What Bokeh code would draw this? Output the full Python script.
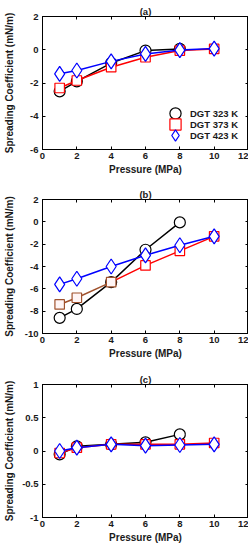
from bokeh.plotting import figure
from bokeh.layouts import column
from bokeh.models import LinearAxis, FixedTicker, Range1d, Legend, LegendItem, CustomJSTickFormatter
from bokeh.embed import file_html
from bokeh.resources import INLINE

# ---- data ----
pressure_323 = [1, 2, 4, 6, 8]
pressure = [1, 2, 4, 6, 8, 10]

a_323 = [-2.5, -1.9, -0.8, -0.05, 0.05]
a_373 = [-2.3, -1.85, -1.05, -0.45, -0.05, 0.05]
a_423 = [-1.45, -1.25, -0.7, -0.25, -0.02, 0.07]

b_323 = [-8.6, -7.8, -5.4, -2.5, -0.05]
b_373 = [-7.4, -6.8, -5.4, -3.9, -2.6, -1.3]
b_423 = [-5.6, -5.1, -4.0, -3.0, -2.1, -1.3]
b_373_brown_count = 3  # first points of 373 K in (b) drawn in brown

c_323 = [-0.05, 0.07, 0.1, 0.13, 0.25]
c_373 = [-0.03, 0.05, 0.1, 0.1, 0.1, 0.12]
c_423 = [0.0, 0.05, 0.1, 0.08, 0.09, 0.1]

x_ticks = [0, 2, 4, 6, 8, 10, 12]
a_yticks = [-6, -4, -2, 0, 2]
b_yticks = [-10, -8, -6, -4, -2, 0, 2]
c_yticks = [-1, -0.5, 0, 0.5, 1]
c_ylabels = ["-1", "-0.5", "0", "0.5", "1"]

legend_labels = ["DGT 323 K", "DGT 373 K", "DGT 423 K"]
colors = ["black", "red", "blue"]
brown = "#a0522d"
markers = ["circle", "square", "diamond"]
msizes = [11, 9.5, 15]

FONT = "Liberation Sans"
TXT = "#1a1a1a"


def make_panel(title, ys, yticks, ylabels, frame_h, ystandoff, bottom, legend, brown_n=0):
    p = figure(width=248, frame_height=frame_h, output_backend="svg", toolbar_location=None,
               x_range=Range1d(0, 12), y_range=Range1d(yticks[0], yticks[-1]),
               min_border_left=40, min_border_right=0, min_border_top=16,
               min_border_bottom=bottom)
    p.title.text = title
    p.title.align = "center"
    p.title.text_font = FONT
    p.title.text_font_size = "9.5px"
    p.title.text_font_style = "bold"
    p.title.text_color = TXT
    p.title.offset = 0
    p.title.standoff = 0
    p.grid.visible = False
    p.outline_line_color = "black"
    p.outline_line_width = 1
    p.background_fill_color = "white"

    xs = [pressure_323, pressure, pressure]
    rends = []
    for i in range(3):
        if i == 1 and brown_n:
            k = brown_n
            p.line(xs[i][:k], ys[i][:k], line_color=brown, line_width=1.5)
            p.line(xs[i][k - 1:], ys[i][k - 1:], line_color=colors[i], line_width=1.5)
            p.scatter(xs[i][:k], ys[i][:k], marker=markers[i], size=msizes[i],
                      fill_color="#fff5f5", line_color=brown, line_width=1.2)
            r = p.scatter(xs[i][k:], ys[i][k:], marker=markers[i], size=msizes[i],
                          fill_color="white", line_color=colors[i], line_width=1.2)
        else:
            p.line(xs[i], ys[i], line_color=colors[i], line_width=1.5)
            r = p.scatter(xs[i], ys[i], marker=markers[i], size=msizes[i],
                          fill_color="white", line_color=colors[i], line_width=1.2)
        rends.append(r)

    for ax in p.xaxis + p.yaxis:
        ax.major_tick_in = 3
        ax.major_tick_out = 0
        ax.minor_tick_line_color = None
        ax.major_label_text_font = FONT
        ax.major_label_text_font_size = "9.5px"
        ax.major_label_text_font_style = "bold"
        ax.axis_label_text_font = FONT
        ax.axis_label_text_font_size = "10px"
        ax.axis_label_text_font_style = "bold"
        ax.axis_label_text_color = TXT
        ax.major_label_text_color = TXT
        ax.axis_line_width = 1

    p.xaxis.ticker = FixedTicker(ticks=x_ticks)
    p.xaxis.axis_label = "Pressure (MPa)"
    p.xaxis.major_label_standoff = 3
    p.xaxis.axis_label_standoff = 2
    p.yaxis.ticker = FixedTicker(ticks=yticks)
    p.yaxis.axis_label = "Spreading Coefficient (mN/m)"
    p.yaxis.major_label_standoff = 4
    p.yaxis.axis_label_standoff = ystandoff
    p.yaxis.major_label_overrides = {t: l for t, l in zip(yticks, ylabels)}

    # box ticks on top and right (no labels)
    blank = CustomJSTickFormatter(code="return '';")
    ra = LinearAxis(ticker=FixedTicker(ticks=yticks), major_tick_in=3, major_tick_out=0,
                    minor_tick_line_color=None, formatter=blank, major_label_standoff=0)
    ta = LinearAxis(ticker=FixedTicker(ticks=x_ticks), major_tick_in=3, major_tick_out=0,
                    minor_tick_line_color=None, formatter=blank, major_label_standoff=0)
    p.add_layout(ra, "right")
    p.add_layout(ta, "above")

    if legend:
        # one single-item legend per row so the markers can be large and rows tight
        offsets = [(119, 22), (119, 11), (119, 0)]
        for i in range(3):
            lg = Legend(items=[LegendItem(label=legend_labels[i], renderers=[rends[i]])],
                        location=offsets[i])
            lg.label_text_font = FONT
            lg.label_text_font_size = "9.5px"
            lg.label_text_font_style = "bold"
            lg.label_text_color = TXT
            lg.border_line_alpha = 0
            lg.background_fill_alpha = 0
            lg.glyph_width = 28
            lg.glyph_height = 28
            lg.label_height = 11
            lg.padding = 0
            lg.margin = 0
            lg.label_standoff = 1
            p.add_layout(lg, "center")
    return p


pa = make_panel("(a)", [a_323, a_373, a_423], a_yticks, [str(t) for t in a_yticks],
                133, 12, 34, True)
pb = make_panel("(b)", [b_323, b_373, b_423], b_yticks, [str(t) for t in b_yticks],
                134, 7, 35, False, brown_n=b_373_brown_count)
pc = make_panel("(c)", [c_323, c_373, c_423], c_yticks, c_ylabels,
                133, 4, 30, False)

layout = column(pa, pb, pc)
open("out.html", "w").write(file_html(layout, INLINE))
